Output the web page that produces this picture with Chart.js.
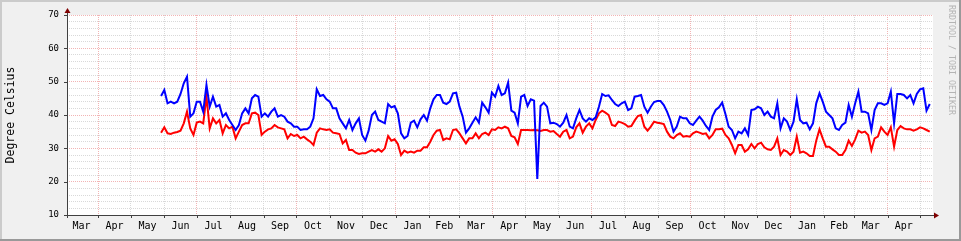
<!DOCTYPE html>
<html>
<head>
<meta charset="utf-8">
<script src="https://cdn.jsdelivr.net/npm/chart.js@4/dist/chart.umd.min.js"></script>
<style>
  html, body { margin: 0; padding: 0; background: #f0f0f0; }
  canvas { display: block; }
</style>
</head>
<body>
<canvas id="tempChart" width="961" height="241"></canvas>
<script>
// days counted from 1 March of the first year
const monthLabels = ['Mar','Apr','May','Jun','Jul','Aug','Sep','Oct','Nov','Dec','Jan','Feb',
                     'Mar','Apr','May','Jun','Jul','Aug','Sep','Oct','Nov','Dec','Jan','Feb','Mar','Apr'];
const monthStarts = [0,31,61,92,122,153,184,214,245,275,306,337,365,396,426,457,487,518,549,579,610,640,671,702,730,761,791];
const xMin = 2, xMax = 803;
const firstDay = 89, stepDays = 3;

const peakTemp = [
  45.7,47.5,43.5,44,43.5,44,46.3,49.5,51.5,39.5,40.5,44,44,41,49,42.5,45.5,42.5,43,39.5,40.5,38.5,37,35.5,37,40.5,42,40.5,45,
  46,45.5,39.5,40.5,39.5,41,42,39.5,40,39.5,38,37.5,36.5,36.5,35.5,35.7,35.7,36.5,39,47.7,45.7,46,44.7,44,42,42,39,37.5,36,38.5,
  35.5,37.5,39,34,32.3,35.3,40,41,38.5,38,37.5,43.3,42.3,42.7,40.5,34.5,33,33.7,37.7,38.3,36.3,38.7,40,38.3,42,44.7,46,46,43.7,43.3,
  44,46.5,46.7,42.5,39.5,34.7,36,37.7,39.3,37.7,43.7,42.3,40.7,46.7,45.5,48.7,46,46.5,49.7,41.3,40.7,37.5,45.5,46,42.7,44.7,44.3,20.8,42.7,43.7,
  42.5,37.5,37.7,37.3,36.5,37.7,40,36.5,36,39,41.5,39,38,39,38.5,39.3,42.5,46.3,45.7,45.9,44.5,43.3,42.7,43.5,44,41.5,42,45.5,45.7,46,
  42.5,40.7,42.5,43.9,44.2,44.2,43,41,38.5,35,36.5,39.5,39,39,37.5,37,38.3,39.5,38.3,36.7,35.5,39.5,41.5,42.3,43.7,40.3,36.5,35.5,33,35,
  34.5,36,34,41.5,41.7,42.5,42,40,41,39.5,39,43.5,36,39,38,35.5,38,44.7,38.5,37.5,37.7,35.7,37.5,43.5,46.5,44,41,40,39,36,
  35.5,37,37.7,43,39.5,43.5,47,41,41,40.5,35.5,41.5,43.5,43.5,43,43.5,47,37.5,46.3,46.3,46,45,46,43.5,46.3,47.7,48,41.3,43.3
];
const meanTemp = [
  34.7,36.3,34.5,34.3,34.7,34.9,35.3,37.5,41,36,34,37.7,38,37.5,45.5,36,39,37.5,38.5,34.5,37,36,36.5,33,35,37,37.5,37.5,40.5,
  40.7,40,34,35,35.7,36,37,36.3,36,35.7,33,34.3,33.7,34,33,33.5,32.7,32,31,34.7,36,35.7,35.5,35.7,34.7,34.5,34.3,31.5,32.5,29.5,
  29.5,28.7,28.3,28.5,28.5,29,29.5,29,29.7,29,30,33.7,32.3,32.7,31.3,28,29.3,28.7,29,28.7,29.3,29.3,30.3,30.3,32,34,35.3,35.5,32.5,33,
  32.7,35.5,35.7,34.5,33,31.5,33,33,34.5,33,34.3,34.7,34,35.7,35.5,36.3,36,36.5,36,33.7,33.3,31.3,35.5,35.5,35.5,35.4,35.5,35.4,35.2,35.5,
  35.5,35,35.2,34.3,33.5,35,35.5,33,33.5,36.3,37.5,34.7,36.5,37.5,36,38.5,40.5,41.3,40.7,40,37,36.7,38,37.7,37.3,36.5,36.7,38.3,39.7,40,
  36.5,35.3,36.5,38,37.7,37.5,37.3,35,33.5,33,34,34.5,33.5,33.7,33.5,34.5,35,34.7,34.3,34.5,33,34,35.7,35.7,35.9,34,33,31,28.5,31,
  31,29,29.7,31.3,30,31.3,31.7,30.3,29.7,29.5,30.5,33,28,29.5,29,28,29,33.5,28.7,29,28.5,27.7,27.7,32.3,35.7,33,30.5,30.5,29.7,29,
  28,28,29.5,32.3,30.7,32.7,35.3,34.7,35,34,29.5,33,33.5,36.3,35,34,36.3,30.5,35.5,36.7,36,35.7,35.7,35.3,35.7,36.3,36,35.5,35
];

const yMin = 10, yMax = 70, yStep = 2, yMajor = 10;
const quarterMonths = ['Jan','Apr','Jul','Oct'];

const minorGrid = '#d9d9d9';
const majorGrid = '#f2b4b4';
const monoFont = 'DejaVu Sans Mono';

Chart.defaults.font.family = monoFont;
Chart.defaults.color = '#000';

function toPoints(values) {
  return values.map((v, i) => ({x: firstDay + i * stepDays, y: v}));
}

const monthMids = monthLabels.map((m, i) => (monthStarts[i] + monthStarts[i + 1]) / 2);

const rrdFrame = {
  id: 'rrdFrame',
  beforeDraw(chart) {
    const {ctx, chartArea: a, width, height} = chart;
    ctx.save();
    ctx.fillStyle = '#f0f0f0';
    ctx.fillRect(0, 0, width, height);
    ctx.fillStyle = '#cbcbcb';
    ctx.fillRect(0, 0, width, 2);
    ctx.fillRect(0, 0, 2, height);
    ctx.fillStyle = '#999';
    ctx.fillRect(0, height - 2, width, 2);
    ctx.fillRect(width - 2, 0, 2, height);
    ctx.fillStyle = '#fff';
    ctx.fillRect(a.left, a.top, a.right - a.left, a.bottom - a.top);
    ctx.restore();
  },
  afterDraw(chart) {
    const {ctx, chartArea: a} = chart;
    const ys = chart.scales.y, xs = chart.scales.x;
    ctx.save();
    ctx.strokeStyle = '#404040';
    ctx.lineWidth = 1;
    ctx.beginPath();
    ctx.moveTo(a.left + 0.5, a.bottom + 3);
    ctx.lineTo(a.left + 0.5, a.top - 4);
    ctx.moveTo(a.left - 3, a.bottom + 0.5);
    ctx.lineTo(a.right + 3, a.bottom + 0.5);
    ys.ticks.forEach(t => {
      if (t.value % yMajor !== 0) return;
      const py = Math.round(ys.getPixelForValue(t.value)) + 0.5;
      ctx.moveTo(a.left - 3, py);
      ctx.lineTo(a.left, py);
    });
    xs.ticks.forEach(t => {
      const px = Math.round(xs.getPixelForValue(t.value)) + 0.5;
      ctx.moveTo(px, a.bottom);
      ctx.lineTo(px, a.bottom + 3);
    });
    ctx.stroke();
    // arrows
    ctx.fillStyle = '#7f0000';
    ctx.beginPath();
    ctx.moveTo(a.left + 0.5, a.top - 7);
    ctx.lineTo(a.left - 2.5, a.top - 2);
    ctx.lineTo(a.left + 3.5, a.top - 2);
    ctx.closePath();
    ctx.fill();
    ctx.beginPath();
    ctx.moveTo(a.right + 6, a.bottom + 0.5);
    ctx.lineTo(a.right + 1, a.bottom - 2.5);
    ctx.lineTo(a.right + 1, a.bottom + 3.5);
    ctx.closePath();
    ctx.fill();
    // watermark
    ctx.translate(951.5, 5);
    ctx.rotate(Math.PI / 2);
    ctx.fillStyle = '#b4b4b4';
    ctx.font = '8.3px ' + monoFont;
    ctx.textBaseline = 'middle';
    ctx.fillText('RRDTOOL / TOBI OETIKER', 0, 0);
    ctx.restore();
  }
};

new Chart(document.getElementById('tempChart'), {
  type: 'line',
  data: {
    datasets: [
      {
        label: 'peak',
        data: toPoints(peakTemp),
        borderColor: '#0000ff',
        borderWidth: 2,
        pointRadius: 0,
        tension: 0
      },
      {
        label: 'mean',
        data: toPoints(meanTemp),
        borderColor: '#ff0000',
        borderWidth: 2,
        pointRadius: 0,
        tension: 0
      }
    ]
  },
  options: {
    responsive: false,
    animation: false,
    devicePixelRatio: 1,
    layout: { padding: { top: 15, right: 28, bottom: 0, left: 0 } },
    plugins: { legend: { display: false }, tooltip: { enabled: false } },
    scales: {
      x: {
        type: 'linear',
        position: 'bottom',
        weight: 0,
        min: xMin,
        max: xMax,
        afterBuildTicks: s => {
          s.ticks = monthStarts.filter(d => d > xMin && d < xMax).map(v => ({value: v}));
        },
        afterFit: s => { s.height = 0; },
        ticks: { display: false, autoSkip: false },
        grid: {
          drawTicks: false,
          color: c => {
            const i = monthStarts.indexOf(c.tick.value);
            return quarterMonths.includes(monthLabels[i]) ? majorGrid : minorGrid;
          }
        },
        border: { display: false, dash: [1, 1] }
      },
      xl: {
        type: 'linear',
        position: 'bottom',
        weight: 1,
        min: xMin,
        max: xMax,
        afterBuildTicks: s => {
          s.ticks = monthMids.filter(d => d > xMin && d < xMax).map(v => ({value: v}));
        },
        afterFit: s => { s.height = 26; },
        ticks: {
          autoSkip: false,
          maxRotation: 0,
          padding: 5,
          font: { size: 10 },
          callback: v => monthLabels[monthMids.indexOf(v)]
        },
        grid: { display: false, drawTicks: false },
        border: { display: false }
      },
      y: {
        min: yMin,
        max: yMax,
        afterFit: s => { s.width = 67; },
        ticks: {
          stepSize: yStep,
          autoSkip: false,
          padding: 8,
          font: { size: 9 },
          callback: v => (v % yMajor === 0 ? v : '')
        },
        grid: {
          drawTicks: false,
          color: c => (c.tick.value % yMajor === 0 ? majorGrid : minorGrid)
        },
        border: { display: false, dash: [1, 1] },
        title: {
          display: true,
          text: 'Degree Celsius',
          font: { size: 11.5 },
          padding: { top: 4, bottom: 0 }
        }
      }
    }
  },
  plugins: [rrdFrame]
});
</script>
</body>
</html>
